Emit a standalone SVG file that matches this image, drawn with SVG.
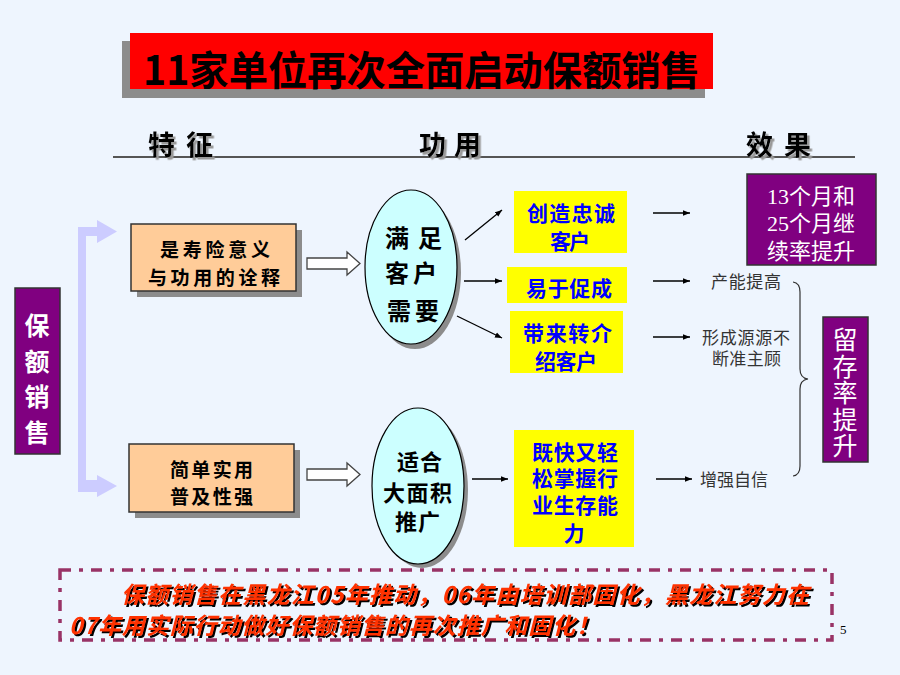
<svg xmlns="http://www.w3.org/2000/svg" width="900" height="675" viewBox="0 0 900 675">
<defs>
<marker id="ah" viewBox="0 0 10 10" refX="10" refY="5" markerWidth="7" markerHeight="7" markerUnits="userSpaceOnUse" orient="auto">
<path d="M0,1 L10,5 L0,9 Z" fill="#000"/>
</marker>
<filter id="shg" x="-10%" y="-20%" width="130%" height="150%"><feDropShadow dx="2.5" dy="2.5" stdDeviation="0" flood-color="#999"/></filter>
<filter id="shk" x="-10%" y="-20%" width="130%" height="150%"><feDropShadow dx="2" dy="2" stdDeviation="0" flood-color="#000"/></filter>
</defs>
<style>
.cjk{font-family:"Noto Sans CJK SC","Liberation Sans",sans-serif}
.bold{font-weight:bold}
.sh{fill:#8c8c8c}
.hdr{font-size:27px;font-weight:bold;fill:#000}
.or{fill:#FFCC99;stroke:#333;stroke-width:1.5}
.ell{fill:#CCFFFF;stroke:#000;stroke-width:1.2}
.yel{fill:#FFFF00}
.blue{fill:#0000FF;font-size:21px;font-weight:bold}
.pur{fill:#800080;stroke:#333;stroke-width:1.5}
.wt{fill:#fff}
.vt{writing-mode:vertical-rl;text-orientation:upright}
.gr{fill:#333;font-size:17px}
.ln{stroke:#000;stroke-width:1.3;fill:none}
.holl{fill:#fff;stroke:#444;stroke-width:1.3}
.ban{fill:#FF3300;font-size:23px;font-weight:bold;font-style:italic}
</style>
<rect width="900" height="675" fill="#EEF5FE"/>

<g id="title">
<rect x="122" y="41" width="583" height="57" fill="#8c8c8c"/>
<rect x="130" y="33" width="583" height="56" fill="#FF0000"/>
<text x="143" y="85" class="cjk" font-size="40" font-weight="bold" fill="#000" textLength="557" lengthAdjust="spacingAndGlyphs">11家单位再次全面启动保额销售</text>
</g>

<g id="headers">
<line x1="113" y1="157" x2="855" y2="157" stroke="#555" stroke-width="2"/>
<g filter="url(#shg)">
<text x="148" y="155" class="cjk hdr" textLength="65">特征</text>
<text x="419" y="155" class="cjk hdr" textLength="62">功用</text>
<text x="746" y="155" class="cjk hdr" textLength="65">效果</text>
</g>
</g>

<g id="n-baoe">
<rect x="15" y="288" width="45" height="166" class="pur"/>
<text x="37" y="313" class="cjk wt bold vt" font-size="25" textLength="132">保额销售</text>
</g>

<g id="n-bracket">
<path d="M78,227 H97 V220 L117,231.5 L97,243 V236 H86 V480 H97 V475 L117,486 L97,497 V492 H78 Z" fill="#CCCCFF"/>
</g>

<g id="n-feature1">
<rect x="137" y="230" width="165" height="67" class="sh"/>
<rect x="131" y="224" width="165" height="67" class="or"/>
<text x="160" y="257" class="cjk bold" font-size="19" textLength="110">是寿险意义</text>
<text x="148" y="285" class="cjk bold" font-size="19" textLength="132">与功用的诠释</text>
</g>

<g id="n-feature2">
<rect x="135" y="450" width="165" height="68" class="sh"/>
<rect x="129" y="444" width="165" height="68" class="or"/>
<text x="170" y="477" class="cjk bold" font-size="19" textLength="83">简单实用</text>
<text x="170" y="504" class="cjk bold" font-size="19" textLength="83">普及性强</text>
</g>

<g id="n-use1">
<ellipse cx="415" cy="272" rx="46" ry="77" class="sh"/>
<ellipse cx="411" cy="267" rx="46" ry="77" class="ell"/>
<text x="385" y="247" class="cjk bold" font-size="24" textLength="57">满足</text>
<text x="385" y="282" class="cjk bold" font-size="24" textLength="52">客户</text>
<text x="387" y="320" class="cjk bold" font-size="24" textLength="52">需要</text>
</g>

<g id="n-use2">
<ellipse cx="422" cy="490" rx="46" ry="78" class="sh"/>
<ellipse cx="418" cy="486" rx="46" ry="78" class="ell"/>
<text x="397" y="470" class="cjk bold" font-size="22" textLength="45">适合</text>
<text x="383" y="501" class="cjk bold" font-size="22" textLength="69">大面积</text>
<text x="395" y="530" class="cjk bold" font-size="22" textLength="45">推广</text>
</g>

<g id="n-r1">
<rect x="514" y="191" width="113" height="62" class="yel"/>
<text x="527" y="221" class="cjk blue" textLength="88">创造忠诚</text>
<text x="550" y="249" class="cjk blue" textLength="40">客户</text>
</g>
<g id="n-r2">
<rect x="507" y="267" width="120" height="36" class="yel"/>
<text x="526" y="296" class="cjk blue" textLength="86">易于促成</text>
</g>
<g id="n-r3">
<rect x="510" y="311" width="113" height="62" class="yel"/>
<text x="523" y="341" class="cjk blue" textLength="89">带来转介</text>
<text x="535" y="369" class="cjk blue" textLength="62">绍客户</text>
</g>
<g id="n-r4">
<rect x="514" y="430" width="120" height="117" class="yel"/>
<text x="532" y="460" class="cjk blue" textLength="86">既快又轻</text>
<text x="532" y="486" class="cjk blue" textLength="86">松掌握行</text>
<text x="532" y="513" class="cjk blue" textLength="86">业生存能</text>
<text x="574" y="541" class="cjk blue" text-anchor="middle">力</text>
</g>

<g id="n-effect1">
<rect x="747" y="174" width="129" height="91" class="pur"/>
<g class="cjk wt" font-size="22" text-anchor="middle">
<text x="811" y="204"><tspan font-family="Liberation Serif">13</tspan>个月和</text>
<text x="811" y="231"><tspan font-family="Liberation Serif">25</tspan>个月继</text>
<text x="811" y="259">续率提升</text>
</g>
</g>

<g id="n-effect-texts" class="cjk gr">
<text x="711" y="288" textLength="70">产能提高</text>
<text x="702" y="344" textLength="88">形成源源不</text>
<text x="712" y="365" textLength="69">断准主顾</text>
<text x="700" y="486" textLength="68">增强自信</text>
</g>

<g id="n-retention">
<rect x="823" y="317" width="45" height="145" class="pur"/>
<text x="845" y="327" class="cjk wt vt" font-size="25" textLength="131">留存率提升</text>
</g>

<g id="connectors">
<path d="M307,258 H347 V252 L360,263.5 L347,275 V269 H307 Z" class="holl"/>
<path d="M307,469 H347 V463 L360,474.5 L347,486 V480 H307 Z" class="holl"/>
<line x1="465" y1="240" x2="502" y2="210" class="ln" marker-end="url(#ah)"/>
<line x1="464" y1="281" x2="502" y2="281" class="ln" marker-end="url(#ah)"/>
<line x1="457" y1="316" x2="502" y2="338" class="ln" marker-end="url(#ah)"/>
<line x1="472" y1="479" x2="508" y2="479" class="ln" marker-end="url(#ah)"/>
<line x1="653" y1="213" x2="690" y2="213" class="ln" marker-end="url(#ah)"/>
<line x1="653" y1="281" x2="690" y2="281" class="ln" marker-end="url(#ah)"/>
<line x1="653" y1="337" x2="690" y2="337" class="ln" marker-end="url(#ah)"/>
<line x1="656" y1="479" x2="692" y2="479" class="ln" marker-end="url(#ah)"/>
<path d="M793,282 Q800,283 800,292 L800,369 Q800,378 808,379 Q800,380 800,389 L800,466 Q800,475 793,476" stroke="#333" stroke-width="1.2" fill="none"/>
</g>

<g id="banner">
<rect x="60" y="570" width="772" height="70" fill="none" stroke="#993366" stroke-width="3.5" stroke-dasharray="11 8 4 8"/>
<g filter="url(#shk)">
<text x="121" y="603" class="cjk ban" textLength="688">保额销售在黑龙江05年推动，06年由培训部固化，黑龙江努力在</text>
<text x="69" y="634" class="cjk ban" textLength="530">07年用实际行动做好保额销售的再次推广和固化！</text>
</g>
</g>

<text x="840" y="634" font-family="Liberation Serif, serif" font-size="13" fill="#000">5</text>
</svg>
